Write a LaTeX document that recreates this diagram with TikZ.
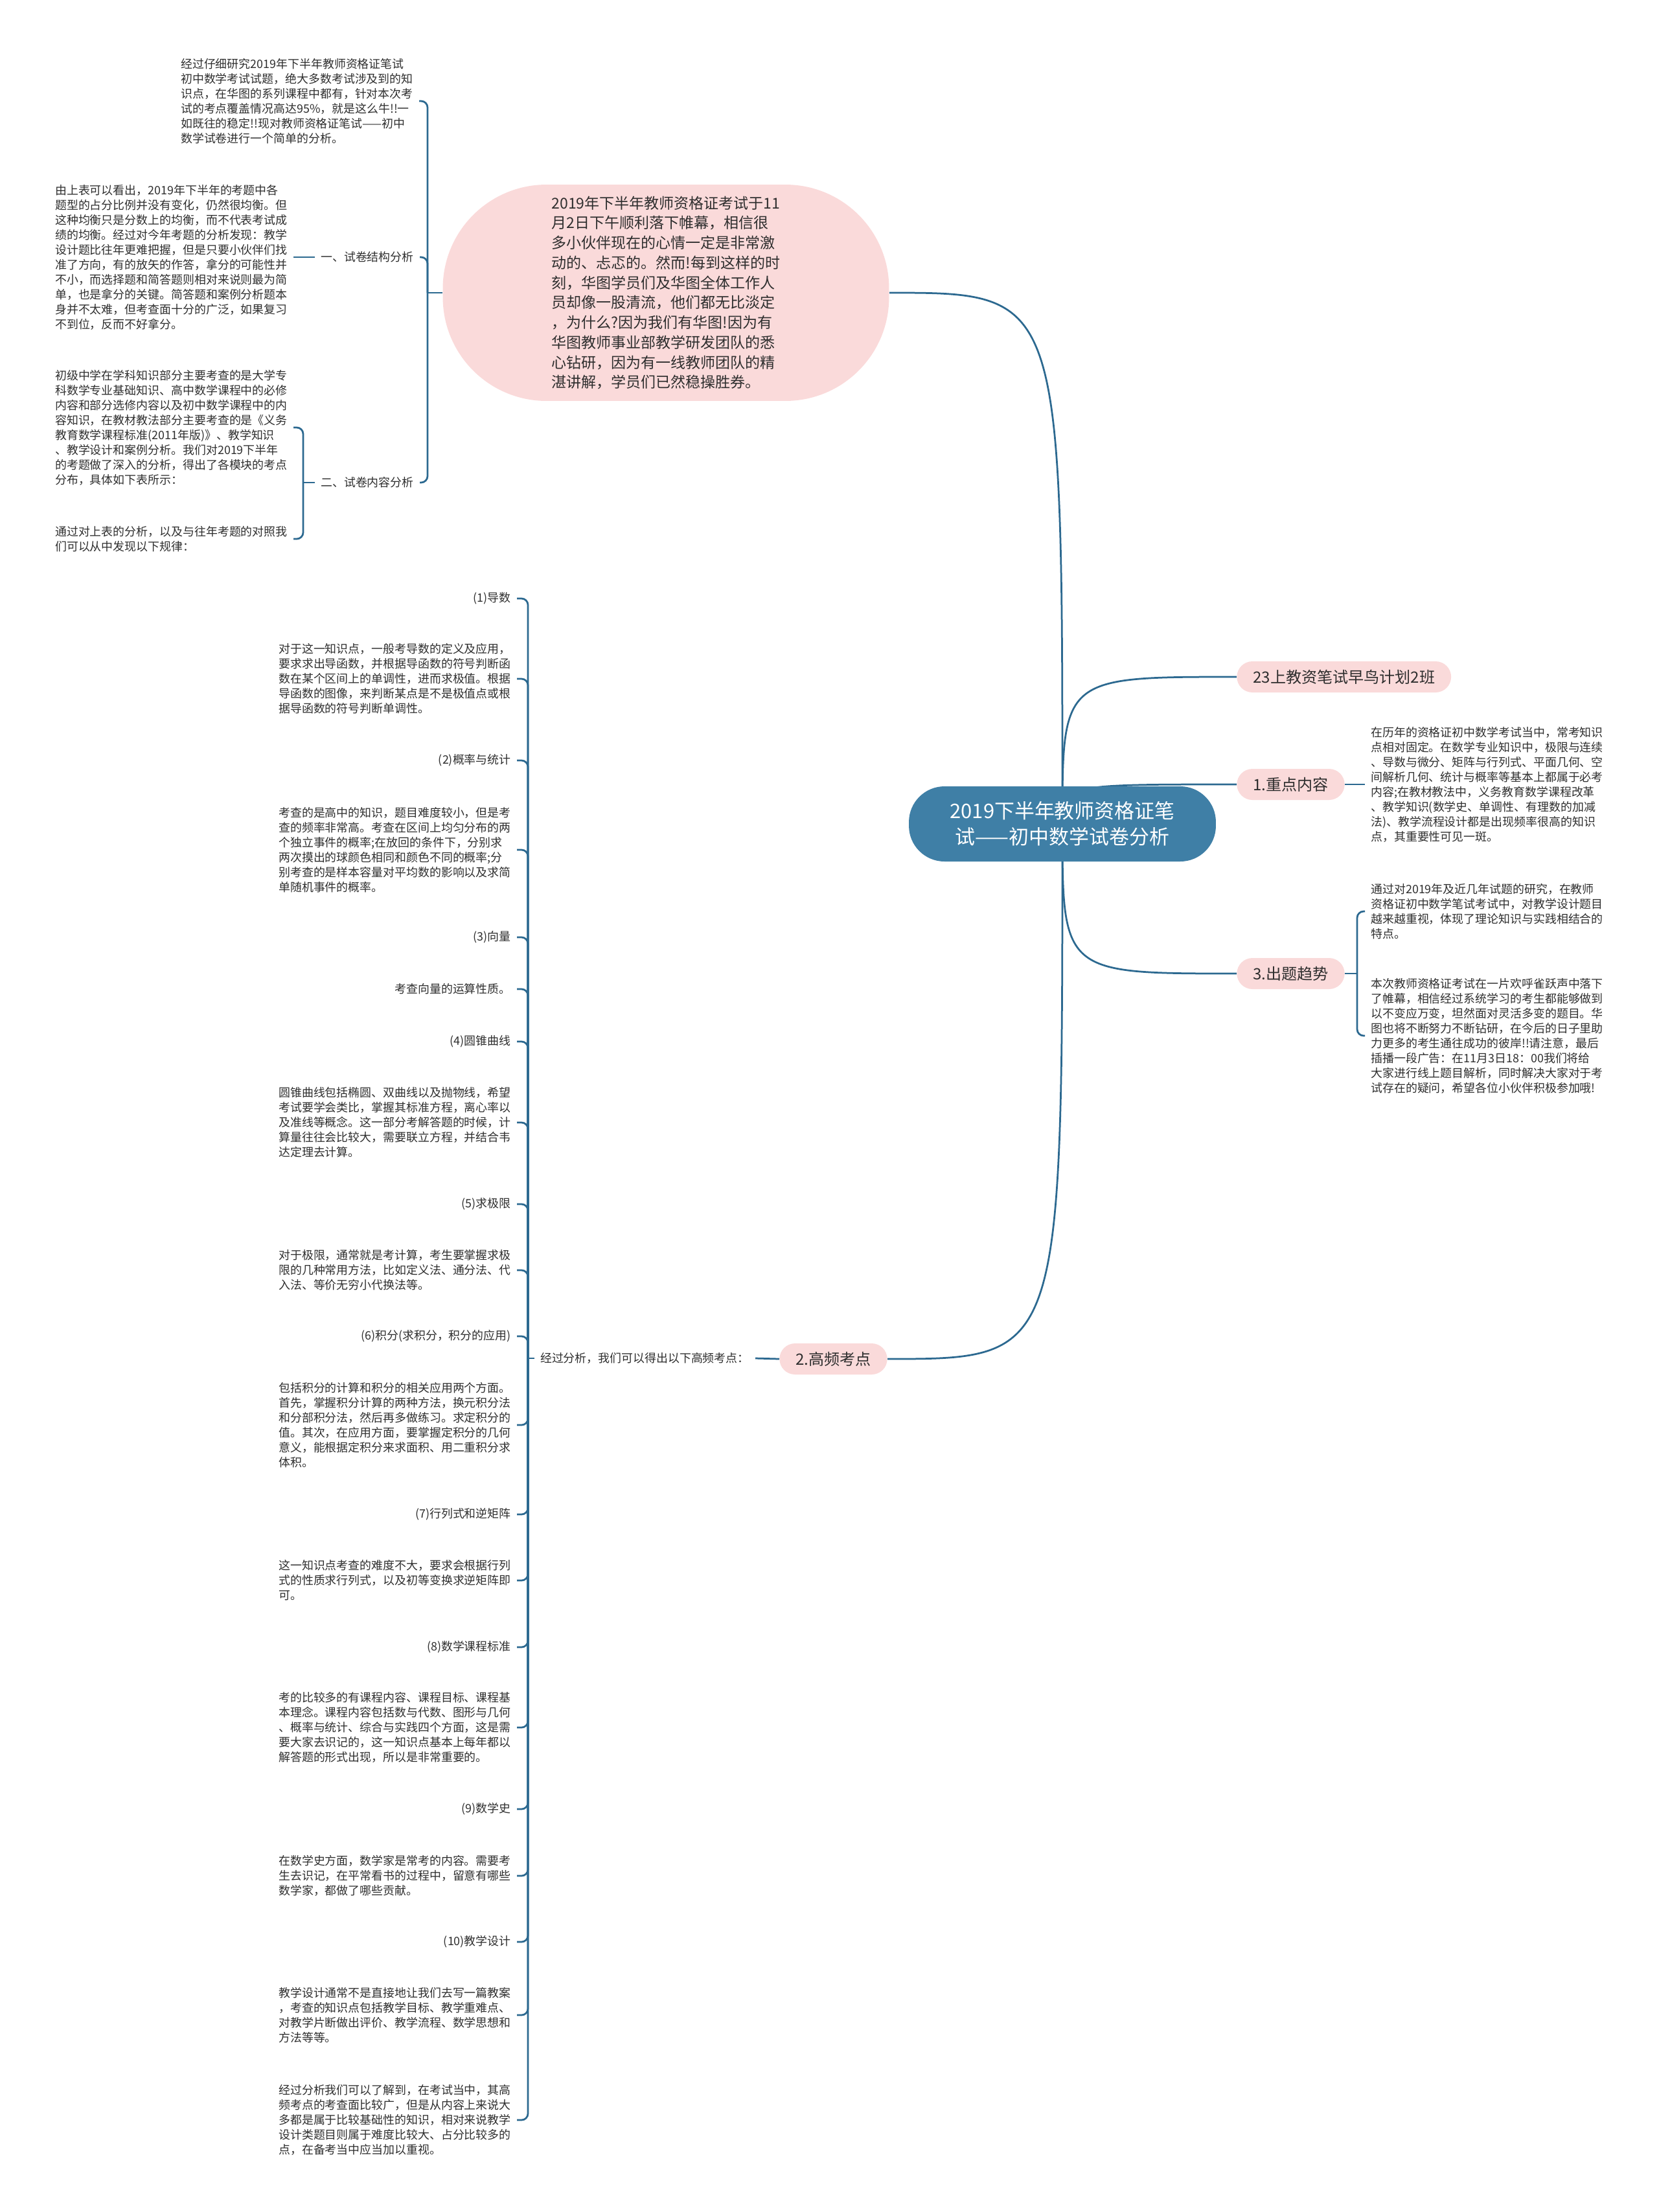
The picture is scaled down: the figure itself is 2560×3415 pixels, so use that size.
\documentclass[tikz,border=0pt]{standalone}
\usepackage{fontspec}
\setmainfont{Noto Sans CJK SC}
\usetikzlibrary{positioning,backgrounds}
\definecolor{maproot}{HTML}{3F7FA6}
\definecolor{mappink}{HTML}{FADADA}
\definecolor{mapline}{HTML}{2C6990}
\definecolor{maptext}{HTML}{2E2E2E}

\begin{document}
\begin{tikzpicture}[
    x=0.02cm, y=-0.02cm,
    root/.style={fill=maproot, text=white, rounded corners=1.1cm, minimum width=9.48cm, minimum height=2.32cm, align=center, font=\fontsize{17.6}{22.8}\selectfont},
    topic/.style={fill=mappink, text=maptext, rounded corners=0.48cm, minimum height=0.96cm, inner xsep=0.5cm, font=\fontsize{13.7}{16}\selectfont},
    bubble/.style={fill=mappink, text=maptext, rounded corners=3.2cm, minimum width=13.78cm, minimum height=6.68cm, align=left, font=\fontsize{13.1}{17.5}\selectfont},
    note/.style={text=maptext, align=left, inner xsep=0.18cm, inner ysep=2pt, font=\fontsize{10.2}{13.1}\selectfont},
    link/.style={draw=mapline, line width=0.055cm},
    hook/.style={link, rounded corners=0.2cm},
]
\useasboundingbox (0,0) rectangle (2560,3415);

% centre and upper bubble
\node[root] (root) at (1640,1272) {2019下半年教师资格证笔\\试——初中数学试卷分析};
\node[bubble] (intro) at (1028,452) {2019年下半年教师资格证考试于11\\月2日下午顺利落下帷幕，相信很\\多小伙伴现在的心情一定是非常激\\动的、忐忑的。然而!每到这样的时\\刻，华图学员们及华图全体工作人\\员却像一股清流，他们都无比淡定\\，为什么?因为我们有华图!因为有\\华图教师事业部教学研发团队的悉\\心钻研，因为有一线教师团队的精\\湛讲解，学员们已然稳操胜券。};

\node[note, anchor=east] (study) at (647,156) {经过仔细研究2019年下半年教师资格证笔试\\初中数学考试试题，绝大多数考试涉及到的知\\识点，在华图的系列课程中都有，针对本次考\\试的考点覆盖情况高达95\%，就是这么牛!!一\\如既往的稳定!!现对教师资格证笔试——初中\\数学试卷进行一个简单的分析。};
\node[note, anchor=east] (part1) at (648,397) {一、试卷结构分析};
\node[note, anchor=east] (part1txt) at (453,397) {由上表可以看出，2019年下半年的考题中各\\题型的占分比例并没有变化，仍然很均衡。但\\这种均衡只是分数上的均衡，而不代表考试成\\绩的均衡。经过对今年考题的分析发现：教学\\设计题比往年更难把握，但是只要小伙伴们找\\准了方向，有的放矢的作答，拿分的可能性并\\不小，而选择题和简答题则相对来说则最为简\\单，也是拿分的关键。简答题和案例分析题本\\身并不太难，但考查面十分的广泛，如果复习\\不到位，反而不好拿分。};
\node[note, anchor=east] (part2) at (648,745) {二、试卷内容分析};
\node[note, anchor=east] (part2txt) at (453,660) {初级中学在学科知识部分主要考查的是大学专\\科数学专业基础知识、高中数学课程中的必修\\内容和部分选修内容以及初中数学课程中的内\\容知识，在教材教法部分主要考查的是《义务\\教育数学课程标准(2011年版)》、教学知识\\、教学设计和案例分析。我们对2019下半年\\的考题做了深入的分析，得出了各模块的考点\\分布，具体如下表所示：};
\node[note, anchor=east] (part2end) at (453,832) {通过对上表的分析，以及与往年考题的对照我\\们可以从中发现以下规律：};
\coordinate (jintro) at (660,452);
\coordinate (jpart2) at (468,745);

% right side
\node[topic, anchor=west] (early) at (1909,1045) {23上教资笔试早鸟计划2班};
\node[topic, anchor=west] (focus) at (1909,1211) {1.重点内容};
\node[note, anchor=west] (focustxt) at (2107,1211) {在历年的资格证初中数学考试当中，常考知识\\点相对固定。在数学专业知识中，极限与连续\\、导数与微分、矩阵与行列式、平面几何、空\\间解析几何、统计与概率等基本上都属于必考\\内容;在教材教法中，义务教育数学课程改革\\、教学知识(数学史、单调性、有理数的加减\\法)、教学流程设计都是出现频率很高的知识\\点，其重要性可见一斑。};
\node[topic, anchor=west] (trend) at (1909,1503) {3.出题趋势};
\node[note, anchor=west] (trendA) at (2107,1407) {通过对2019年及近几年试题的研究，在教师\\资格证初中数学笔试考试中，对教学设计题目\\越来越重视，体现了理论知识与实践相结合的\\特点。};
\node[note, anchor=west] (trendB) at (2107,1599) {本次教师资格证考试在一片欢呼雀跃声中落下\\了帷幕，相信经过系统学习的考生都能够做到\\以不变应万变，坦然面对灵活多变的题目。华\\图也将不断努力不断钻研，在今后的日子里助\\力更多的考生通往成功的彼岸!!请注意，最后\\插播一段广告：在11月3日18：00我们将给\\大家进行线上题目解析，同时解决大家对于考\\试存在的疑问，希望各位小伙伴积极参加哦!};
\coordinate (jtrend) at (2095,1503);

% left list
\node[topic, anchor=east] (freq) at (1370,2098) {2.高频考点};
\node[note, anchor=east] (freqtxt) at (1166,2097) {经过分析，我们可以得出以下高频考点：};
\coordinate (jfreq) at (815,2097);

\node[note, anchor=east] (k1) at (798,924) {(1)导数};
\node[note, anchor=east] (n1) at (798,1048) {对于这一知识点，一般考导数的定义及应用，\\要求求出导函数，并根据导函数的符号判断函\\数在某个区间上的单调性，进而求极值。根据\\导函数的图像，来判断某点是不是极值点或根\\据导函数的符号判断单调性。};
\node[note, anchor=east] (k2) at (798,1174) {(2)概率与统计};
\node[note, anchor=east] (n2) at (798,1312) {考查的是高中的知识，题目难度较小，但是考\\查的频率非常高。考查在区间上均匀分布的两\\个独立事件的概率;在放回的条件下，分别求\\两次摸出的球颜色相同和颜色不同的概率;分\\别考查的是样本容量对平均数的影响以及求简\\单随机事件的概率。};
\node[note, anchor=east] (k3) at (798,1447) {(3)向量};
\node[note, anchor=east] (n3) at (798,1527) {考查向量的运算性质。};
\node[note, anchor=east] (k4) at (798,1608) {(4)圆锥曲线};
\node[note, anchor=east] (n4) at (798,1733) {圆锥曲线包括椭圆、双曲线以及抛物线，希望\\考试要学会类比，掌握其标准方程，离心率以\\及准线等概念。这一部分考解答题的时候，计\\算量往往会比较大，需要联立方程，并结合韦\\达定理去计算。};
\node[note, anchor=east] (k5) at (798,1859) {(5)求极限};
\node[note, anchor=east] (n5) at (798,1961) {对于极限，通常就是考计算，考生要掌握求极\\限的几种常用方法，比如定义法、通分法、代\\入法、等价无穷小代换法等。};
\node[note, anchor=east] (k6) at (798,2063) {(6)积分(求积分，积分的应用)};
\node[note, anchor=east] (n6) at (798,2200) {包括积分的计算和积分的相关应用两个方面。\\首先，掌握积分计算的两种方法，换元积分法\\和分部积分法，然后再多做练习。求定积分的\\值。其次，在应用方面，要掌握定积分的几何\\意义，能根据定积分来求面积、用二重积分求\\体积。};
\node[note, anchor=east] (k7) at (798,2338) {(7)行列式和逆矩阵};
\node[note, anchor=east] (n7) at (798,2440) {这一知识点考查的难度不大，要求会根据行列\\式的性质求行列式，以及初等变换求逆矩阵即\\可。};
\node[note, anchor=east] (k8) at (798,2543) {(8)数学课程标准};
\node[note, anchor=east] (n8) at (798,2667) {考的比较多的有课程内容、课程目标、课程基\\本理念。课程内容包括数与代数、图形与几何\\、概率与统计、综合与实践四个方面，这是需\\要大家去识记的，这一知识点基本上每年都以\\解答题的形式出现，所以是非常重要的。};
\node[note, anchor=east] (k9) at (798,2793) {(9)数学史};
\node[note, anchor=east] (n9) at (798,2896) {在数学史方面，数学家是常考的内容。需要考\\生去识记，在平常看书的过程中，留意有哪些\\数学家，都做了哪些贡献。};
\node[note, anchor=east] (k10) at (798,2998) {(10)教学设计};
\node[note, anchor=east] (n10) at (798,3111) {教学设计通常不是直接地让我们去写一篇教案\\，考查的知识点包括教学目标、教学重难点、\\对教学片断做出评价、教学流程、数学思想和\\方法等等。};
\node[note, anchor=east] (n11) at (798,3273) {经过分析我们可以了解到，在考试当中，其高\\频考点的考查面比较广，但是从内容上来说大\\多都是属于比较基础性的知识，相对来说教学\\设计类题目则属于难度比较大、占分比较多的\\点，在备考当中应当加以重视。};

% connectors
\begin{pgfonlayer}{background}
\draw[link] (root.center) .. controls (1640,452) .. (intro.east);
\draw[link] (root.center) .. controls (1640,1045) .. (early.west);
\draw[link] (root.center) .. controls (1640,1211) .. (focus.west);
\draw[link] (root.center) .. controls (1640,1503) .. (trend.west);
\draw[link] (root.center) .. controls (1640,2098) .. (freq.east);
\end{pgfonlayer}

\draw[link] (intro.west) -- (jintro);
\foreach \n in {study,part1,part2}
    \draw[hook] (jintro) |- (\n.east);
\draw[link] (part1.west) -- (part1txt.east);
\draw[link] (part2.west) -- (jpart2);
\foreach \n in {part2txt,part2end}
    \draw[hook] (jpart2) |- (\n.east);

\draw[link] (focus.east) -- (focustxt.west);
\draw[link] (trend.east) -- (jtrend);
\foreach \n in {trendA,trendB}
    \draw[hook] (jtrend) |- (\n.west);

\draw[link] (freq.west) -- (freqtxt.east);
\draw[link] (freqtxt.west) -- (jfreq);
\foreach \n in {k1,n1,k2,n2,k3,n3,k4,n4,k5,n5,k6,n6,k7,n7,k8,n8,k9,n9,k10,n10,n11}
    \draw[hook] (jfreq) |- (\n.east);

\end{tikzpicture}
\end{document}
